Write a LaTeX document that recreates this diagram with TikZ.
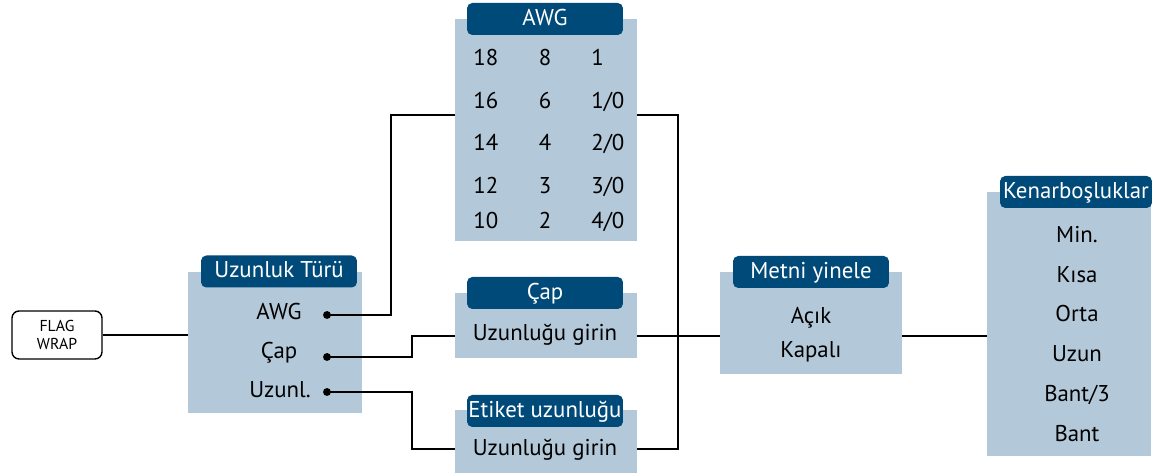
\documentclass[tikz,border=0pt]{standalone}
\usepackage{fontspec}
\setmainfont{PT Sans}
\usetikzlibrary{positioning,calc}
\definecolor{panelblue}{HTML}{B3C8D8}
\definecolor{headblue}{HTML}{004A7A}

\begin{document}
\begin{tikzpicture}[x=0.02cm, y=-0.02cm,
  panel/.style={fill=panelblue, inner sep=0pt},
  header/.style={fill=headblue, text=white, rounded corners=3pt,
    minimum width=3.12cm, minimum height=0.64cm, inner sep=0pt,
    text height=0.7em, text depth=0pt, font=\fontsize{13}{15}\selectfont},
  item/.style={inner sep=0pt, text height=0.7em, text depth=0pt,
    font=\fontsize{13}{15}\selectfont},
  pin/.style={circle, fill=black, inner sep=0pt, minimum size=4.5pt},
  wire/.style={line width=1.1pt},
  flagbox/.style={draw, rounded corners=4pt, line width=0.8pt, minimum width=1.8cm,
    minimum height=0.96cm, align=center, font=\fontsize{9}{10}\selectfont}
]
  \useasboundingbox (0,0) rectangle (1153,475);

  % start
  \node[flagbox] (flag) at (57,335) {FLAG\\WRAP};

  % Uzunluk Turu
  \node[panel, minimum width=3.48cm, minimum height=2.82cm] (len) at (275,342.5) {};
  \node[header] (len-h) at (279,271.5) {Uzunluk Türü};
  \node[item] (len-awg) at (279,313) {AWG};
  \node[item] (len-cap) at (279,352) {Çap};
  \node[item] (len-uz) at (280,391.5) {Uzunl.};
  \node[pin] (p-awg) at (327,315) {};
  \node[pin] (p-cap) at (327,357) {};
  \node[pin] (p-uz) at (327,392) {};

  % AWG
  \node[panel, minimum width=3.64cm, minimum height=4.44cm] (awg) at (546,130) {};
  \node[header] (awg-h) at (545,19) {AWG};
  \foreach \a/\b/\c/\y [count=\r] in {18/8/{1}/59, 16/6/{1/0}/102.5, 14/4/{2/0}/144,
      12/3/{3/0}/187, 10/2/{4/0}/222.5} {
    \node[item, anchor=west] (awg-\r-a) at (473,\y) {\a};
    \node[item] (awg-\r-b) at (545,\y) {\b};
    \node[item, anchor=west] (awg-\r-c) at (591,\y) {\c};
  }

  % Cap
  \node[panel, minimum width=3.64cm, minimum height=1.3cm] (cap) at (546,325.5) {};
  \node[header] (cap-h) at (545,293) {Çap};
  \node[item] (cap-txt) at (545,334) {Uzunluğu girin};

  % Etiket uzunlugu
  \node[panel, minimum width=3.64cm, minimum height=1.26cm] (etk) at (546,441.5) {};
  \node[header] (etk-h) at (545,411) {Etiket uzunluğu};
  \node[item] (etk-txt) at (545,449) {Uzunluğu girin};

  % Metni yinele
  \node[panel, minimum width=3.64cm, minimum height=2.04cm] (met) at (811,323) {};
  \node[header] (met-h) at (811,272) {Metni yinele};
  \node[item] (met-on) at (811,317) {Açık};
  \node[item] (met-off) at (811,351.5) {Kapalı};

  % Kenarbosluklar
  \node[panel, minimum width=3.28cm, minimum height=5.28cm] (ken) at (1069,324) {};
  \node[header, minimum width=3.04cm] (ken-h) at (1076,192) {Kenarboşluklar};
  \foreach \t/\y [count=\r] in {Min./236, Kısa/276, Orta/315, Uzun/355, Bant\slash 3/395, Bant/435}
    \node[item] (ken-\r) at (1077,\y) {\t};

  % wires
  \coordinate (awgin) at (455,115);
  \coordinate (bus) at (678,336);
  \coordinate (jog) at (412,0);

  \draw[wire] (flag.east) -- (flag.east -| len.west);
  \draw[wire] (p-awg.center) -| ($(p-awg)!0.5!(awgin)$) |- (awgin);
  \draw[wire] (p-cap.center) -| (jog |- bus) -- (cap.west |- bus);
  \draw[wire] (p-uz.center) -| (jog |- etk-txt) -- (etk.west |- etk-txt);
  \draw[wire] (awg.east |- awgin) -| (bus) |- (etk.east |- etk-txt);
  \draw[wire] (cap.east |- bus) -- (met.west |- bus);
  \draw[wire] (met.east |- bus) -- (ken.west |- bus);
\end{tikzpicture}
\end{document}
